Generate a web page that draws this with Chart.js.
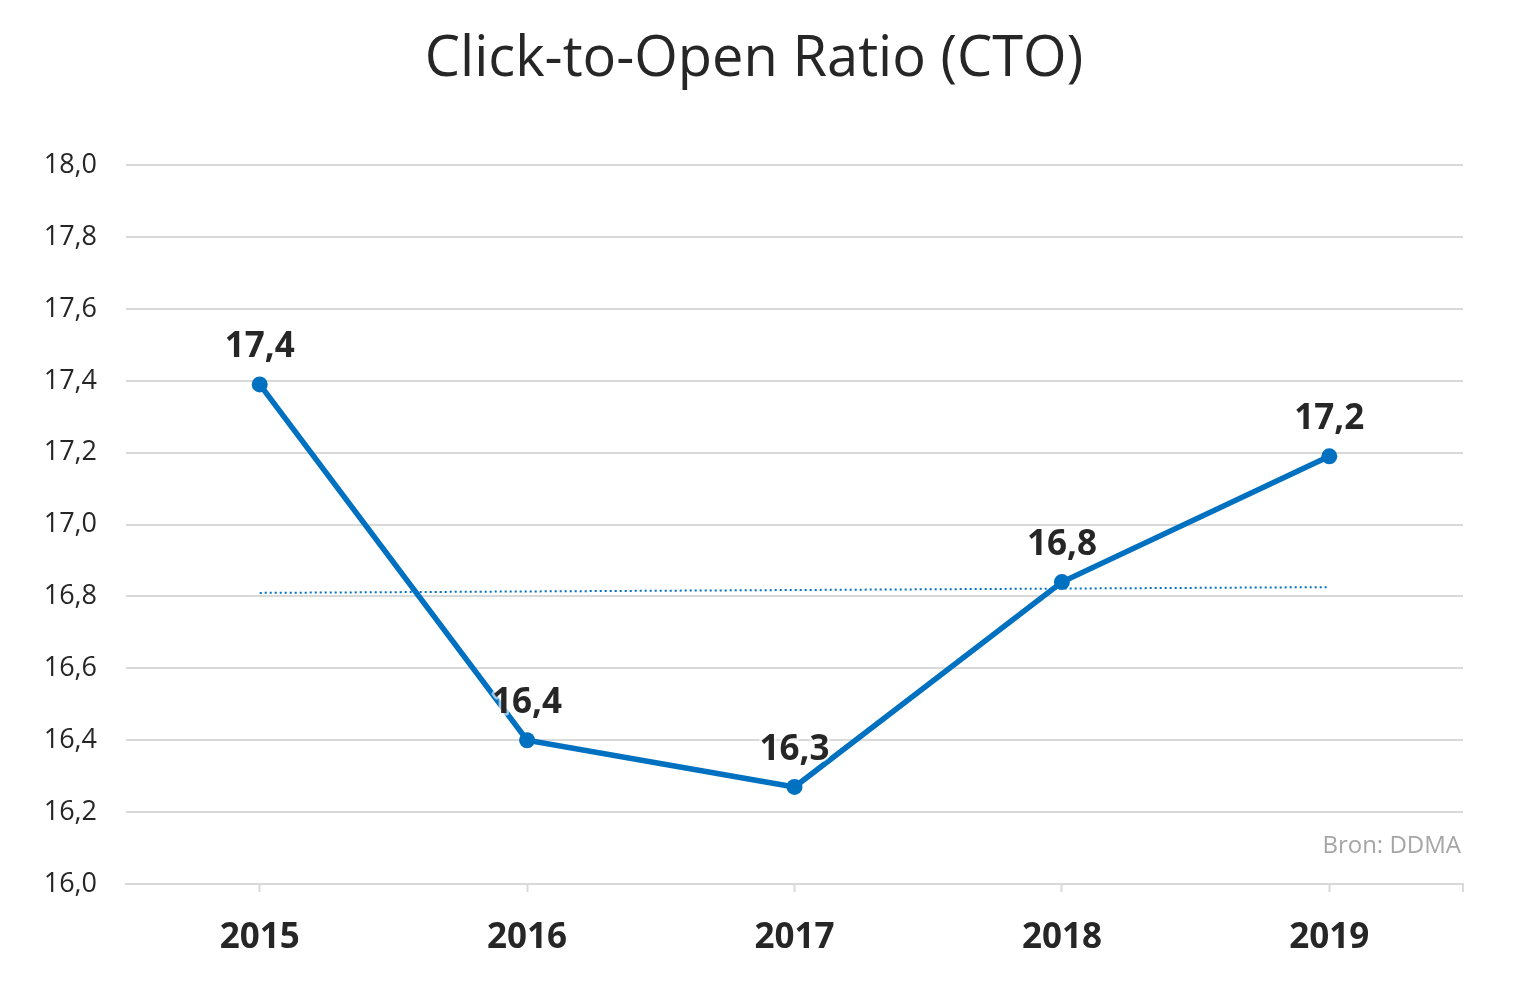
<!DOCTYPE html>
<html>
<head>
<meta charset="utf-8">
<script src="https://cdn.jsdelivr.net/npm/chart.js@4/dist/chart.umd.min.js"></script>
<style>
	html, body { margin: 0; padding: 0; background: #fff; }
	#wrap { width: 1514px; height: 987px; }
</style>
</head>
<body>
<div id="wrap"><canvas id="cto"></canvas></div>
<script>
const years = ['2015', '2016', '2017', '2018', '2019'];
const cto_values = [17.39, 16.40, 16.27, 16.84, 17.19];
// trend line at first and last year
const trend_values = [16.81, null, null, null, 16.826];
const y_min = 16.0;
const y_max = 18.0;
const y_step = 0.2;

const blue = '#0070c0';
const text_dark = '#262626';
const grid_grey = '#d9d9d9';

function comma(v){
	return v.toFixed(1).replace('.', ',');
}

// value labels above the points + source note + right edge tick
const extras = {
	id: 'extras',
	afterDatasetsDraw(chart){
		const ctx = chart.ctx;
		const meta = chart.getDatasetMeta(0);
		ctx.save();
		ctx.font = 'bold 35px "Open Sans"';
		ctx.textAlign = 'center';
		ctx.textBaseline = 'middle';
		ctx.lineJoin = 'round';
		meta.data.forEach(function(pt, i){
			const txt = comma(cto_values[i]);
			ctx.strokeStyle = 'rgba(255,255,255,0.6)';
			ctx.lineWidth = 5;
			ctx.strokeText(txt, pt.x, pt.y - 37);
			ctx.fillStyle = text_dark;
			ctx.fillText(txt, pt.x, pt.y - 37);
		});

		const area = chart.chartArea;
		ctx.font = '24px "Open Sans"';
		ctx.fillStyle = '#a6a6a6';
		ctx.textAlign = 'right';
		ctx.textBaseline = 'middle';
		ctx.fillText('Bron: DDMA', area.right - 2, 846);

		ctx.strokeStyle = grid_grey;
		ctx.lineWidth = 2;
		ctx.beginPath();
		ctx.moveTo(area.right, area.bottom);
		ctx.lineTo(area.right, area.bottom + 8);
		ctx.stroke();
		ctx.restore();
	}
};

const ctx = document.getElementById('cto').getContext('2d');
new Chart(ctx, {
	type: 'line',
	data: {
		labels: years,
		datasets: [
			{
				label: 'CTO',
				data: cto_values,
				borderColor: blue,
				backgroundColor: blue,
				borderWidth: 5.5,
				pointRadius: 8,
				pointBorderWidth: 0,
				tension: 0,
				order: 1
			},
			{
				label: 'Trend',
				data: trend_values,
				borderColor: blue,
				borderWidth: 2,
				borderDash: [2, 3],
				pointRadius: 0,
				spanGaps: true,
				order: 2
			}
		]
	},
	options: {
		responsive: true,
		maintainAspectRatio: false,
		animation: false,
		layout: {
			padding: { left: 0, right: 6, top: 0, bottom: 0 }
		},
		plugins: {
			legend: { display: false },
			tooltip: { enabled: false },
			title: {
				display: true,
				text: 'Click-to-Open Ratio (CTO)',
				color: text_dark,
				font: { family: 'Open Sans', size: 56, weight: 'normal' },
				padding: { top: 26, bottom: 72 }
			}
		},
		scales: {
			x: {
				offset: true,
				grid: {
					display: true,
					drawOnChartArea: false,
					drawTicks: true,
					tickLength: 8,
					tickColor: grid_grey,
					tickWidth: 2,
					offset: false
				},
				border: { display: true, color: grid_grey, width: 2 },
				ticks: {
					color: text_dark,
					font: { family: 'Open Sans', size: 35, weight: 'bold' },
					padding: 25
				},
				afterFit(scale){ scale.height = 987 - 884; }
			},
			y: {
				min: y_min,
				max: y_max,
				grid: {
					color: grid_grey,
					lineWidth: 2,
					drawTicks: false
				},
				border: { display: false },
				ticks: {
					stepSize: y_step,
					color: text_dark,
					font: { family: 'Open Sans', size: 27 },
					padding: 29,
					callback: function(v){ return comma(v); }
				},
				afterFit(scale){ scale.width = 126; }
			},
			// empty right axis, only keeps the plot away from the edge
			yr: {
				position: 'right',
				display: true,
				grid: { display: false },
				border: { display: false },
				ticks: { display: false },
				afterFit(scale){ scale.width = 45; }
			}
		}
	},
	plugins: [extras]
});
</script>
</body>
</html>
